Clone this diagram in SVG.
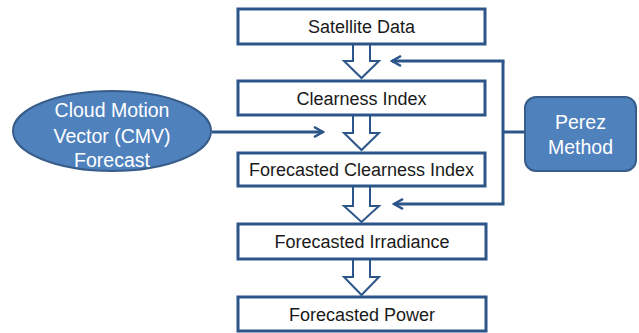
<svg xmlns="http://www.w3.org/2000/svg" width="639" height="333" viewBox="0 0 639 333">
<defs>
<style>
.box{fill:#fff;stroke:#2c5589;stroke-width:3}
.blk{fill:#fff;stroke:#2c5589;stroke-width:2}
.blue{fill:#4f81bd;stroke:#385d8a;stroke-width:2}
.con{fill:none;stroke:#2c5589;stroke-width:3}
.t{font-family:"Liberation Sans",Arial,sans-serif;font-size:18px;fill:#1a1a1a;text-anchor:middle}
.w{font-family:"Liberation Sans",Arial,sans-serif;font-size:19.5px;fill:#fff;text-anchor:middle}
</style>
<marker id="ah" viewBox="0 0 12 12" refX="10" refY="6" markerWidth="12" markerHeight="12" markerUnits="userSpaceOnUse" orient="auto">
<path d="M1,1 L10,6 L1,11" fill="none" stroke="#2c5589" stroke-width="2.5"/>
</marker>
</defs>
<rect width="639" height="333" fill="#fff"/>
<g id="connectors">
<path class="blk" d="M353,44 V61 H344 L361.5,78 L379,61 H370 V44"/>
<path class="blk" d="M353,115 V133 H344 L361.5,150 L379,133 H370 V115"/>
<path class="blk" d="M353,186 V206 H344 L361.5,222 L379,206 H370 V186"/>
<path class="blk" d="M353,259 V277 H344 L361.5,295 L379,277 H370 V259"/>
<line class="con" x1="212" y1="132" x2="323" y2="132" marker-end="url(#ah)"/>
<path class="con" d="M525,132 H503"/>
<path class="con" d="M503,61 V204 H394" marker-end="url(#ah)"/>
<path class="con" d="M504.5,61 H392" marker-end="url(#ah)"/>
</g>
<g id="satellite"><rect class="box" x="238" y="9" width="247" height="35"/><text class="t" x="361.5" y="33">Satellite Data</text></g>
<g id="clearness"><rect class="box" x="238" y="81" width="247" height="34"/><text class="t" x="361.5" y="104.5">Clearness Index</text></g>
<g id="fclearness"><rect class="box" x="238" y="153" width="247" height="33"/><text class="t" x="361.5" y="176">Forecasted Clearness Index</text></g>
<g id="firradiance"><rect class="box" x="238" y="224" width="248" height="35"/><text class="t" x="362" y="248">Forecasted Irradiance</text></g>
<g id="fpower"><rect class="box" x="238" y="297" width="248" height="34"/><text class="t" x="362" y="320.5">Forecasted Power</text></g>
<g id="cmv"><ellipse class="blue" cx="112" cy="131" rx="99" ry="40"/><text class="w" x="112" y="117">Cloud Motion</text><text class="w" x="112" y="143">Vector (CMV)</text><text class="w" x="112" y="167">Forecast</text></g>
<g id="perez"><rect class="blue" x="525" y="97" width="111" height="74" rx="11"/><text class="w" x="580.5" y="129">Perez</text><text class="w" x="580.5" y="154">Method</text></g>
</svg>
